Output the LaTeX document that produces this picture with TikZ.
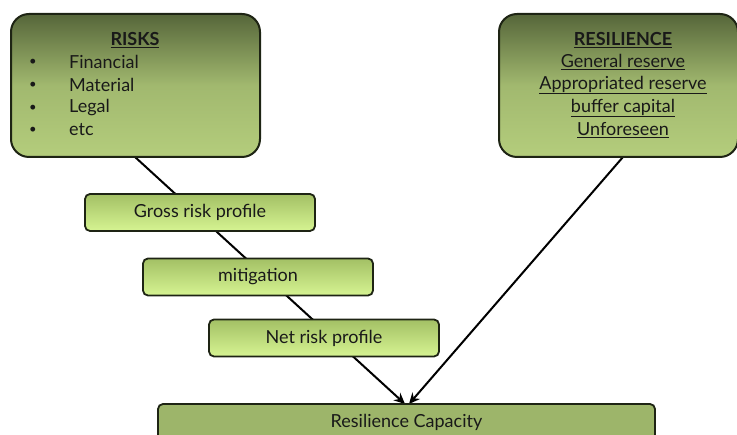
\documentclass[tikz,border=0pt]{standalone}
\usepackage{fontspec}
\setmainfont{Lato}
\usetikzlibrary{arrows.meta}
\definecolor{bigtop}{HTML}{56663A}
\definecolor{bigbot}{HTML}{B4CD7C}
\definecolor{smtop}{HTML}{A3C065}
\definecolor{smbot}{HTML}{D6F492}
\definecolor{capfill}{HTML}{9DB56A}
\definecolor{edge}{HTML}{1E2414}
\tikzset{
  bigbox/.style={draw=edge, line width=2pt, rounded corners=18pt, top color=bigtop, bottom color=bigbot, middle color=bigbot!80!bigtop, shading angle=0},
  smallbox/.style={draw=edge, line width=1.8pt, rounded corners=5pt, top color=smtop, bottom color=smbot, minimum height=37pt, minimum width=230pt, font=\fontsize{18}{20}\selectfont, text=black!90},
  capbox/.style={draw=edge, line width=1.8pt, rounded corners=5pt, fill=capfill},
  conn/.style={line width=2pt, -{Stealth[length=11pt,width=10pt]}},
  txt/.style={font=\fontsize{18}{20}\selectfont, text=black!90, inner sep=0pt},
}
\begin{document}
\begin{tikzpicture}[x=1pt,y=-1pt]
\useasboundingbox (0,0) rectangle (737,435);
% connector end coordinates
\coordinate (rtop) at (135,157);
\coordinate (stop) at (623,157);
\coordinate (tip1) at (405,404);
\coordinate (tip2) at (409,404);
% connectors behind the boxes
\draw[conn] (rtop) -- (tip1);
\draw[conn] (stop) -- (tip2);
% big boxes
\draw[bigbox] (11,14) rectangle (260,157);
\draw[bigbox] (499,14) rectangle (738,157);
% RISKS content
\node[txt, font=\fontsize{18}{20}\selectfont\bfseries] (rt) at (135,40) {\underline{RISKS}};
\foreach \t/\y [count=\i] in {Financial/62, Material/85, Legal/108, etc/130}{
  \node[txt, font=\fontsize{13}{14}\selectfont] (b\i) at (33,\y) {•};
  \node[txt, anchor=west] (r\i) at (69,\y) {\t};
}
% RESILIENCE content
\node[txt, font=\fontsize{18}{20}\selectfont\bfseries] (st) at (623,40) {\underline{RESILIENCE}};
\node[txt] (s1) at (623,62) {\underline{General reserve}};
\node[txt] (s2) at (623,85) {\underline{Appropriated reserve}};
\node[txt] (s3) at (623,108) {\underline{buffer capital}};
\node[txt] (s4) at (623,130) {\underline{Unforeseen}};
% middle boxes
\node[smallbox] (gross) at (200,212.5) {Gross risk profile};
\node[smallbox] (mit) at (258,277) {mitigation};
\node[smallbox] (net) at (324,338) {Net risk profile};
% capacity box
\draw[capbox] (158,404) rectangle (655,450);
\node[txt] (cap) at (406.5,422) {Resilience Capacity};
\end{tikzpicture}
\end{document}
